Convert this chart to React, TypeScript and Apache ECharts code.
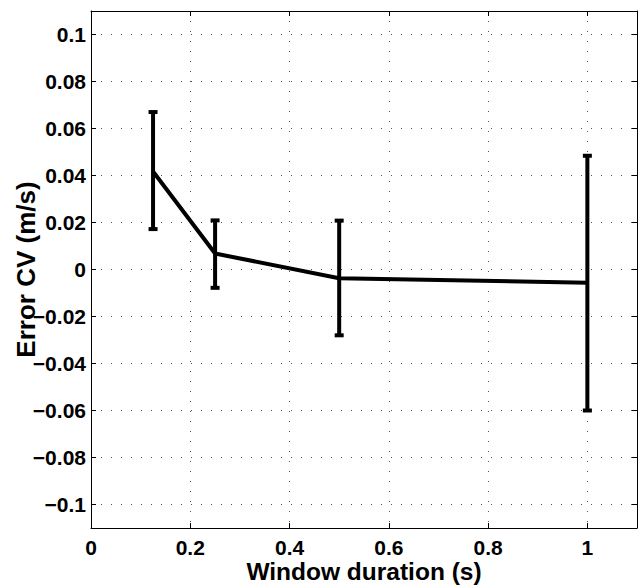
import React, { useEffect, useRef } from "react";
import * as echarts from "echarts";

const windowDurations = [0.125, 0.25, 0.5, 1];
const meanError = [0.0417, 0.0068, -0.0037, -0.0056];
const lowerError = [0.0172, -0.0078, -0.028, -0.060];
const upperError = [0.067, 0.0209, 0.0208, 0.0484];

const FONT = "'Liberation Sans', Arial, Helvetica, sans-serif";

const fmt = (v: number) => {
  const r = Number(v.toFixed(3));
  const s = String(Math.abs(r));
  return r < 0 ? "\u2212" + s : s;
};

export default function App() {
  const ref = useRef<HTMLDivElement>(null);
  useEffect(() => {
    if (!ref.current) return;
    const chart = echarts.init(ref.current, null, { renderer: "svg" });
    const gridLine = { show: true, lineStyle: { color: "#555", width: 1, type: [1, 9] as any } };
    const tickStyle = { show: true, inside: true, length: 5, lineStyle: { color: "#000", width: 1 } };
    const axisLineStyle = { show: true, onZero: false, lineStyle: { color: "#000", width: 1 } };
    const lineData = windowDurations.map((x, i) => [x, meanError[i]]);
    const barData = windowDurations.map((x, i) => [x, lowerError[i], upperError[i]]);
    chart.setOption({
      animation: false,
      backgroundColor: "#fff",
      grid: { left: 91, right: 3, top: 11, bottom: 58, containLabel: false, outerBoundsMode: "none" },
      xAxis: [
        {
          type: "value",
          min: 0,
          max: 1.1,
          interval: 0.2,
          position: "bottom",
          name: "Window duration (s)",
          nameLocation: "middle",
          nameGap: 31,
          nameMoveOverlap: false,
          nameTextStyle: { fontFamily: FONT, fontWeight: "bold", fontSize: 24.5, color: "#000" },
          axisLine: axisLineStyle,
          axisTick: tickStyle,
          axisLabel: {
            showMaxLabel: false,
            margin: 9,
            fontFamily: FONT,
            fontWeight: "bold",
            fontSize: 21,
            color: "#000",
            formatter: (v: number) => fmt(v),
          },
          splitLine: gridLine,
        },
        {
          type: "value",
          min: 0,
          max: 1.1,
          interval: 0.2,
          position: "top",
          axisLine: axisLineStyle,
          axisTick: tickStyle,
          axisLabel: { show: false },
          splitLine: { show: false },
        },
      ],
      yAxis: [
        {
          type: "value",
          min: -0.11,
          max: 0.11,
          splitNumber: 11,
          minInterval: 0.02,
          maxInterval: 0.02,
          position: "left",
          name: "Error CV (m/s)",
          nameLocation: "middle",
          nameGap: 52,
          nameMoveOverlap: false,
          nameTextStyle: { fontFamily: FONT, fontWeight: "bold", fontSize: 26, color: "#000" },
          axisLine: axisLineStyle,
          axisTick: tickStyle,
          axisLabel: {
            showMinLabel: false,
            showMaxLabel: false,
            margin: 5,
            fontFamily: FONT,
            fontWeight: "bold",
            fontSize: 21,
            color: "#000",
            formatter: (v: number) => fmt(v),
          },
          splitLine: gridLine,
        },
        {
          type: "value",
          min: -0.11,
          max: 0.11,
          splitNumber: 11,
          minInterval: 0.02,
          maxInterval: 0.02,
          position: "right",
          axisLine: axisLineStyle,
          axisTick: tickStyle,
          axisLabel: { show: false },
          splitLine: { show: false },
        },
      ],
      series: [
        {
          type: "line",
          xAxisIndex: 0,
          yAxisIndex: 0,
          data: lineData,
          symbol: "none",
          lineStyle: { color: "#000", width: 4 },
          z: 3,
        },
        {
          type: "custom",
          xAxisIndex: 0,
          yAxisIndex: 0,
          data: barData,
          z: 4,
          renderItem: (params: any, api: any) => {
            const x = api.value(0);
            const lo = api.coord([x, api.value(1)]);
            const hi = api.coord([x, api.value(2)]);
            const cap = 4.5;
            const st = { stroke: "#000", lineWidth: 4 };
            return {
              type: "group",
              children: [
                { type: "line", shape: { x1: lo[0], y1: lo[1], x2: hi[0], y2: hi[1] }, style: st },
                { type: "line", shape: { x1: lo[0] - cap, y1: lo[1], x2: lo[0] + cap, y2: lo[1] }, style: st },
                { type: "line", shape: { x1: hi[0] - cap, y1: hi[1], x2: hi[0] + cap, y2: hi[1] }, style: st },
              ],
            };
          },
        },
      ],
    });
    return () => chart.dispose();
  }, []);
  return (
    <div
      ref={ref}
      style={{ position: "fixed", left: 0, top: 0, width: 640, height: 586, background: "#fff" }}
    />
  );
}
